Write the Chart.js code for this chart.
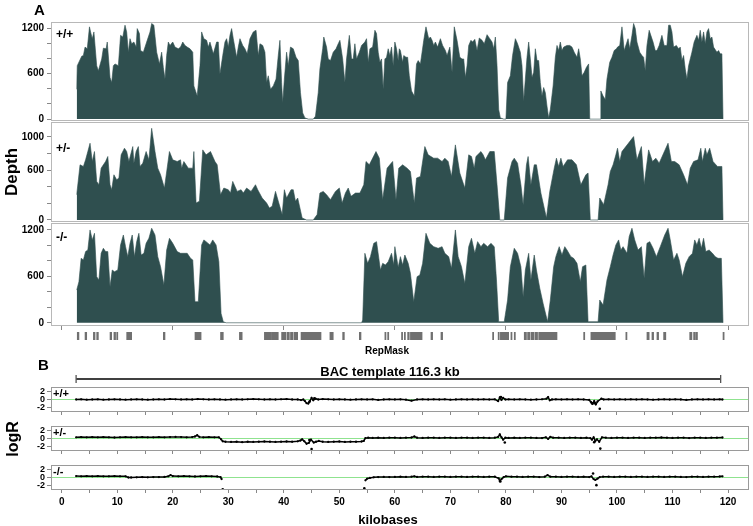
<!DOCTYPE html>
<html><head><meta charset="utf-8">
<script src="https://cdn.jsdelivr.net/npm/chart.js@4/dist/chart.umd.min.js"></script>
<style>
html,body{margin:0;padding:0;background:#fff;}
#wrap{position:relative;width:753px;height:526px;overflow:hidden;font-family:"Liberation Sans",Arial,Helvetica,sans-serif;font-weight:bold;color:#000;}
canvas{position:absolute;left:0;top:0;}
.t{position:absolute;white-space:nowrap;line-height:1;font-weight:bold;}
.c{transform:translate(-50%,-50%);}
.r{transform:translate(-50%,-50%) rotate(-90deg);}
</style></head><body>
<div id="wrap">
<canvas id="a1" width="753" height="526"></canvas>
<canvas id="a2" width="753" height="526"></canvas>
<canvas id="a3" width="753" height="526"></canvas>
<canvas id="rm" width="753" height="526"></canvas>
<canvas id="bac" width="753" height="526"></canvas>
<canvas id="b1" width="753" height="526"></canvas>
<canvas id="b2" width="753" height="526"></canvas>
<canvas id="b3" width="753" height="526"></canvas>
<div class="t" style="left:34px;top:2px;font-size:15px">A</div>
<div class="t r" style="left:11px;top:172px;font-size:17px">Depth</div>
<div class="t" style="left:56px;top:28px;font-size:12px">+/+</div>
<div class="t" style="left:56px;top:142px;font-size:12px">+/-</div>
<div class="t" style="left:56px;top:231px;font-size:12px">-/-</div>
<div class="t c" style="left:387px;top:351px;font-size:10px">RepMask</div>
<div class="t" style="left:38px;top:357px;font-size:15px">B</div>
<div class="t c" style="left:390px;top:371px;font-size:13px">BAC template 116.3 kb</div>
<div class="t r" style="left:13px;top:439px;font-size:16px">logR</div>
<div class="t" style="left:53px;top:388px;font-size:11px">+/+</div>
<div class="t" style="left:53px;top:427px;font-size:11px">+/-</div>
<div class="t" style="left:53px;top:466px;font-size:11px">-/-</div>
<div class="t c" style="left:388px;top:519px;font-size:13px">kilobases</div>
</div>
<script>
// ---------- data (kilobase position, value) ----------
const depthWT = [[2.7,393],[2.8,704],[3.6,829],[3.9,838],[4.2,949],[4.6,927],[5.0,1216],[5.2,1149],[5.5,1060],[5.8,1149],[6.3,704],[6.6,638],[7.2,793],[7.5,935],[8.0,927],[8.2,1016],[8.7,549],[9.0,482],[9.3,704],[9.6,727],[10.2,704],[10.6,1104],[11.0,1082],[11.4,1238],[11.7,1149],[12.0,882],[12.3,1060],[12.6,993],[13.0,1016],[13.4,949],[13.6,1193],[14.0,1127],[14.2,904],[14.7,882],[15.3,1016],[15.9,1149],[16.2,1260],[16.6,1238],[17.1,882],[17.6,727],[18.0,882],[18.3,682],[18.6,527],[18.9,838],[19.2,1016],[19.5,971],[20.0,1016],[20.4,949],[21.0,927],[21.4,949],[21.8,1016],[22.2,971],[22.6,949],[23.1,927],[23.6,882],[23.8,438],[24.4,304],[24.9,704],[25.2,1149],[25.6,1060],[26.1,1038],[26.4,949],[26.7,1016],[27.3,860],[27.9,1016],[28.2,1016],[28.5,593],[29.0,838],[29.4,1016],[29.7,1060],[30.0,949],[30.3,1104],[30.6,1193],[30.9,1060],[31.5,815],[31.8,949],[32.1,1060],[32.6,971],[33.0,927],[33.4,860],[33.9,1060],[34.5,1149],[35.0,1171],[35.4,838],[35.7,993],[36.2,971],[36.6,882],[36.9,482],[37.2,571],[37.6,393],[38.1,438],[38.6,527],[39.0,838],[39.3,1038],[39.6,482],[39.8,216],[40.1,527],[40.5,882],[40.8,704],[41.2,949],[41.7,927],[42.2,815],[42.6,771],[43.0,349],[43.4,82],[43.8,16],[44.4,0],[45.3,0],[45.7,38],[46.2,349],[46.5,660],[47.0,927],[47.2,1082],[47.7,949],[48.0,793],[48.4,771],[48.9,882],[49.4,927],[49.8,993],[50.1,1038],[50.6,793],[51.0,482],[51.3,793],[51.8,1104],[52.2,793],[52.5,793],[52.8,993],[53.1,793],[53.6,882],[54.0,971],[54.6,1016],[54.9,1060],[55.2,749],[55.5,927],[56.0,949],[56.4,1171],[56.7,1127],[57.0,882],[57.3,749],[57.6,793],[57.9,393],[58.2,793],[58.5,815],[58.8,927],[59.1,838],[59.4,949],[59.7,704],[60.0,1016],[60.3,927],[60.6,771],[60.8,927],[61.0,904],[61.4,749],[61.6,838],[62.0,815],[62.3,815],[62.6,571],[63.0,371],[63.5,304],[63.9,727],[64.2,771],[64.6,727],[64.9,882],[65.2,1038],[65.6,1216],[66.1,1060],[66.4,1082],[66.7,1038],[67.0,971],[67.3,1016],[67.7,949],[68.2,1060],[68.6,971],[69.1,904],[69.4,838],[69.9,949],[70.3,616],[70.7,1216],[71.2,1038],[71.7,815],[72.1,793],[72.4,793],[72.7,549],[73.0,704],[73.3,971],[73.7,1038],[74.0,1016],[74.4,1051],[74.8,904],[75.2,1069],[75.7,1038],[76.1,993],[76.6,1113],[77.1,1060],[77.5,1016],[77.8,927],[78.1,1082],[78.4,704],[78.7,127],[79.0,16],[79.6,0],[80.0,0],[80.3,482],[80.8,571],[81.2,838],[81.7,1060],[82.1,993],[82.6,882],[82.9,704],[83.2,236],[83.5,527],[83.8,815],[84.1,1016],[84.4,793],[84.7,549],[85.0,616],[85.3,927],[85.6,771],[85.9,771],[86.2,482],[86.5,304],[86.8,416],[87.1,349],[87.4,171],[87.7,16],[88.0,127],[88.5,438],[88.9,815],[89.2,971],[89.5,904],[89.8,1016],[90.1,904],[90.4,949],[91.0,971],[91.5,971],[91.9,949],[92.3,882],[92.8,815],[93.1,927],[93.4,793],[93.7,571],[94.1,616],[94.5,682],[94.9,727],[95.1,0],[97.0,0],[97.1,371],[97.5,304],[97.9,260],[98.2,527],[98.7,749],[99.1,815],[99.5,904],[99.9,927],[100.1,949],[100.5,971],[100.9,1216],[101.3,904],[101.7,993],[102.0,1060],[102.3,927],[102.7,1104],[103.0,1260],[103.3,1193],[103.6,1016],[104.1,882],[104.5,838],[104.8,815],[105.1,638],[105.4,971],[105.8,1171],[106.1,1104],[106.5,1016],[106.9,904],[107.2,904],[107.6,971],[108.1,1104],[108.5,971],[109.0,971],[109.3,1238],[109.6,1238],[109.9,1149],[110.2,949],[110.7,971],[111.1,927],[111.4,949],[111.7,771],[112.0,838],[112.3,660],[112.6,527],[112.9,704],[113.5,882],[113.9,1016],[114.4,1104],[114.7,1038],[115.0,1171],[115.3,1016],[115.6,1149],[115.9,993],[116.2,1149],[116.5,1193],[116.8,1060],[117.1,1082],[117.4,949],[118.0,882],[118.3,904],[118.6,860],[118.9,860],[119.1,0]];

const depthHet = [[2.7,304],[3.3,664],[3.9,644],[4.3,724],[4.7,824],[5.1,924],[5.5,704],[5.9,824],[6.3,464],[6.7,424],[7.1,624],[7.5,664],[7.9,704],[8.3,764],[8.7,424],[9.0,364],[9.4,544],[9.9,484],[10.3,504],[10.7,784],[11.3,864],[11.7,824],[12.1,704],[12.8,884],[13.0,684],[13.4,824],[13.8,884],[14.1,644],[14.6,684],[15.2,824],[15.7,724],[16.2,1104],[16.8,824],[17.3,624],[17.8,544],[18.5,384],[19.4,824],[20.0,724],[20.8,704],[21.4,724],[21.6,624],[22.0,704],[22.8,624],[23.6,624],[23.8,824],[24.2,204],[24.8,224],[25.4,844],[26.0,784],[26.8,824],[27.6,704],[28.0,664],[28.6,304],[29.2,384],[30.0,364],[30.4,324],[30.8,464],[31.6,344],[32.3,364],[32.7,324],[33.3,384],[34.1,344],[34.9,424],[35.3,364],[36.1,264],[36.9,204],[37.4,144],[37.9,164],[38.5,344],[39.7,64],[40.1,364],[40.5,264],[41.3,364],[41.7,364],[42.1,224],[42.5,264],[43.3,24],[44.1,0],[45.3,0],[46.0,64],[46.5,324],[47.1,344],[47.7,304],[48.4,244],[49.3,344],[50.0,384],[50.5,204],[51.1,324],[51.6,384],[52.1,284],[52.9,324],[53.7,324],[54.4,424],[54.8,704],[55.4,664],[56.6,824],[57.2,744],[57.8,244],[58.6,624],[59.1,664],[59.6,704],[60.2,244],[60.7,624],[61.4,664],[62.2,624],[62.8,584],[63.5,204],[63.9,504],[64.6,524],[65.4,884],[66.0,784],[67.0,744],[67.7,744],[68.5,704],[69.0,744],[69.6,704],[70.2,524],[70.9,904],[71.7,564],[72.6,384],[73.3,784],[73.8,764],[74.3,624],[74.6,764],[75.5,824],[75.9,784],[76.3,724],[77.1,824],[77.9,824],[78.4,424],[78.9,0],[79.7,0],[80.3,504],[81.1,704],[81.5,744],[82.1,684],[82.7,424],[83.1,184],[83.7,664],[84.0,764],[84.5,424],[85.1,664],[85.5,664],[86.3,324],[87.3,24],[87.9,344],[88.7,624],[89.1,744],[89.5,644],[89.9,744],[90.3,644],[91.1,724],[91.9,724],[92.7,664],[93.5,424],[94.4,544],[94.8,564],[95.2,0],[96.6,0],[96.9,264],[97.6,184],[98.4,424],[98.8,584],[99.3,664],[99.8,784],[100.1,864],[100.5,704],[100.9,824],[103.0,1004],[103.6,724],[104.4,884],[104.9,424],[105.7,844],[106.4,704],[107.0,744],[107.6,684],[109.2,924],[109.8,704],[110.4,704],[111.2,664],[112.0,544],[112.7,424],[113.2,624],[113.8,704],[114.6,724],[115.1,864],[115.4,704],[115.9,864],[116.2,784],[116.7,864],[117.3,704],[118.1,644],[118.9,644],[119.1,0]];

const depthKO = [[2.7,423],[3.1,531],[3.5,833],[3.9,812],[4.3,920],[4.7,941],[5.1,1200],[5.5,1071],[5.9,1157],[6.3,596],[6.7,553],[7.1,898],[7.5,963],[7.9,920],[8.3,920],[8.7,466],[9.1,682],[9.5,660],[10.1,682],[10.6,1006],[11.1,1135],[11.5,984],[11.9,855],[12.3,1027],[12.7,1135],[13.1,855],[13.5,1049],[13.9,1157],[14.3,876],[14.8,898],[15.2,1027],[15.7,1092],[16.2,1222],[16.8,1135],[17.3,855],[17.8,725],[18.4,488],[18.9,941],[19.4,1092],[20.0,1027],[20.8,920],[21.4,898],[22.0,898],[22.6,898],[23.2,833],[23.6,812],[24.0,272],[24.6,272],[25.2,1006],[25.6,1071],[26.0,1049],[26.7,1006],[27.2,1071],[27.8,1006],[28.3,790],[28.7,121],[29.1,13],[29.6,0],[54.0,0],[54.2,35],[54.6,898],[55.1,768],[55.6,855],[56.2,1027],[56.7,1049],[57.4,682],[57.8,768],[58.3,747],[58.8,790],[59.4,898],[59.8,747],[60.0,984],[60.6,717],[61.0,855],[61.4,747],[61.8,876],[62.4,768],[62.8,639],[63.4,272],[64.0,596],[64.5,617],[65.0,768],[65.6,1157],[66.3,1027],[67.0,984],[67.8,963],[68.5,984],[69.0,898],[69.7,855],[70.2,704],[70.9,1200],[71.4,855],[72.0,725],[72.6,509],[73.3,984],[73.8,1092],[74.4,898],[74.9,1049],[75.5,984],[76.0,1027],[76.7,984],[77.3,1027],[77.9,984],[78.3,553],[78.7,13],[79.7,13],[80.3,294],[80.8,725],[81.5,963],[82.1,898],[82.7,725],[83.1,337],[83.5,682],[84.1,898],[84.5,553],[85.1,876],[85.5,682],[86.1,445],[86.7,250],[87.5,13],[88.0,294],[88.6,725],[89.0,855],[89.6,984],[90.1,876],[90.6,984],[91.0,941],[91.7,855],[92.2,833],[92.8,768],[93.4,531],[93.8,725],[94.4,747],[94.8,13],[96.6,13],[96.9,294],[97.5,229],[98.2,553],[98.8,725],[99.3,876],[99.8,1006],[100.3,1071],[100.7,941],[101.1,984],[101.8,898],[102.2,1114],[102.7,1222],[103.2,1071],[103.8,941],[104.4,984],[104.9,574],[105.4,1027],[105.9,1049],[106.5,963],[107.1,855],[107.8,984],[108.6,1135],[109.2,1222],[109.6,1071],[110.2,812],[110.8,898],[111.2,812],[111.8,596],[112.4,768],[113.0,855],[113.6,898],[114.0,1071],[114.4,1006],[114.8,1092],[115.2,963],[115.6,1092],[116.0,920],[116.6,941],[117.2,898],[117.7,855],[118.2,833],[118.8,833],[119.1,0]];

const repMask = [[2.8,3.1],[4.2,4.5],[5.7,6.0],[6.3,6.6],[8.7,9.0],[9.4,9.7],[9.9,10.1],[11.7,12.6],[18.3,18.6],[24.0,25.1],[28.6,29.1],[32.0,32.5],[36.5,37.1],[37.2,37.8],[37.9,39.0],[39.6,40.4],[40.6,41.0],[41.2,41.6],[41.8,42.5],[43.1,46.7],[48.3,48.9],[50.6,50.9],[53.6,53.9],[58.2,58.4],[58.7,58.9],[61.2,61.4],[61.7,61.9],[62.3,62.6],[62.8,64.9],[66.5,66.8],[68.3,68.6],[77.6,77.8],[78.6,78.8],[79.0,80.5],[80.9,81.1],[81.5,81.7],[83.3,83.7],[83.9,84.3],[84.5,85.0],[85.2,85.7],[85.9,89.2],[94.0,94.2],[95.3,99.7],[101.6,101.8],[105.4,105.8],[106.3,106.6],[107.2,107.5],[108.4,108.8],[113.1,113.5],[113.8,114.1],[114.2,114.5],[119.1,119.3]];

const logrWT = [[2.6,0.0],[3.5,0.05],[4.5,-0.05],[5.5,0.0],[6.5,0.05],[7.5,-0.05],[8.5,0.0],[9.5,0.05],[10.5,0.0],[11.5,-0.05],[12.5,0.0],[13.5,0.05],[14.5,0.0],[15.5,-0.05],[16.5,0.0],[17.5,0.05],[18.5,0.0],[19.5,0.1],[20.5,0.05],[21.5,0.0],[22.5,0.05],[23.5,0.0],[24.5,0.1],[25.5,0.05],[26.5,0.0],[27.5,0.05],[28.5,0.0],[29.5,-0.05],[30.5,0.0],[31.5,0.05],[32.5,0.0],[33.5,0.05],[34.5,0.1],[35.5,0.05],[36.5,0.0],[37.5,0.05],[38.5,0.0],[39.5,0.05],[40.5,0.1],[41.5,0.0],[42.5,0.0],[43.1,-0.15],[43.5,0.0],[43.8,-0.4],[44.1,-0.9],[44.4,-1.0],[44.7,-0.4],[45.0,0.4],[45.3,-0.2],[45.7,0.2],[46.2,0.0],[47,0.1],[48,0.05],[49,0.0],[50,0.05],[51,0.0],[52,-0.05],[53,0.0],[54,0.05],[55,0.0],[56,0.05],[57,-0.1],[58,0.0],[59,0.05],[60,0.0],[61,0.05],[62,-0.05],[63,-0.3],[64,0.0],[65,0.05],[66,0.0],[67,0.05],[68,0.0],[69,0.05],[70,-0.05],[71,0.0],[72,0.05],[73,0.0],[74,0.05],[75,0.0],[76,0.05],[77,0.0],[78,0.05],[78.6,-0.4],[78.9,0.5],[79.2,-0.1],[79.5,0.4],[79.9,0.0],[80.5,0.05],[81.5,0.0],[82.5,0.05],[83.5,0.0],[84.5,-0.05],[85.5,0.0],[86.5,0.05],[87.3,0.2],[87.6,0.6],[87.9,-0.2],[88.3,0.0],[89,0.05],[90,0.0],[91,0.05],[92,0.0],[93,0.05],[94,0.0],[95,-0.1],[95.3,-0.6],[95.6,-1.1],[95.9,-0.4],[96.2,-1.2],[96.5,-0.5],[97.2,0.2],[97.6,0.0],[98.5,0.05],[99.5,0.0],[100.5,0.05],[101.5,0.0],[102.5,0.05],[103.5,0.0],[104.5,0.05],[105.5,0.0],[106.5,-0.05],[107.5,0.0],[108.5,0.05],[109.5,0.0],[110.5,0.05],[111.5,0.0],[112.5,-0.1],[113.5,0.0],[114.5,0.05],[115.5,0.0],[116.5,0.05],[117.5,0.0],[118.5,0.05],[119.0,0.0]];
const logrWTOut = [[44.6,-0.6],[45.5,0.3],[79.1,0.6],[95.5,-0.9],[96.0,-0.9],[96.9,-2.3]];

const logrHet = [[2.6,0.3],[3.5,0.35],[4.5,0.3],[5.5,0.35],[6.5,0.3],[7.5,0.35],[8.5,0.3],[9.5,0.25],[10.5,0.3],[11.5,0.35],[12.5,0.3],[13.5,0.3],[14.5,0.35],[15.5,0.3],[16.5,0.3],[17.5,0.35],[18.5,0.3],[19.5,0.35],[20.5,0.4],[21.5,0.35],[22.5,0.3],[23.5,0.35],[24.0,0.5],[24.4,0.8],[24.8,0.4],[25.5,0.3],[26.5,0.35],[27.5,0.3],[28.3,0.3],[28.7,-0.2],[29.0,-0.7],[29.5,-0.8],[30.5,-0.85],[31.5,-0.8],[32.5,-0.9],[33.5,-0.8],[34.5,-0.85],[35.5,-0.8],[36.5,-0.75],[37.5,-0.8],[38.5,-0.85],[39.5,-0.8],[40.5,-0.75],[41.5,-0.8],[42.5,-0.7],[43.0,-0.5],[43.3,-0.2],[43.7,-0.7],[44.1,-1.3],[44.5,-1.1],[44.9,-0.3],[45.4,-1.0],[45.8,-0.8],[46.3,-0.6],[47,-0.8],[48,-0.85],[49,-0.8],[50,-0.75],[51,-0.85],[52,-0.8],[53,-0.8],[54,-0.75],[54.4,-0.6],[54.7,0.1],[55.2,0.2],[56,0.15],[57,0.2],[58,0.15],[59,0.2],[60,0.2],[61,0.15],[62,0.2],[63,0.25],[63.5,0.5],[64,0.2],[65,0.15],[66,0.2],[67,0.2],[68,0.15],[69,0.2],[70,0.2],[71,0.15],[72,0.2],[73,0.2],[74,0.15],[75,0.2],[76,0.2],[77,0.15],[78,0.2],[78.6,0.4],[78.9,1.0],[79.2,0.3],[79.5,-0.3],[79.9,0.2],[80.5,0.15],[81.5,0.2],[82.5,0.15],[83.5,0.2],[84.5,0.2],[85.5,0.15],[86.5,0.1],[87.2,0.3],[87.6,-0.1],[88.0,0.4],[88.5,0.2],[89.5,0.2],[90.5,0.15],[91.5,0.2],[92.5,0.2],[93.5,0.15],[94.5,0.2],[95.2,0.1],[95.5,-0.3],[95.8,0.3],[96.1,-0.6],[96.4,-0.2],[96.8,-0.8],[97.3,0.3],[98,0.2],[99,0.15],[100,0.2],[101,0.2],[102,0.15],[103,0.2],[104,0.2],[105,0.15],[106,0.2],[107,0.2],[108,0.25],[109,0.2],[110,0.15],[111,0.2],[112,0.2],[113,0.1],[114,0.2],[115,0.2],[116,0.15],[117,0.2],[118,0.2],[119,0.25]];
const logrHetOut = [[44.6,-0.4],[45.0,-2.6],[79.8,-1.0],[95.9,-0.9],[97.0,-2.5]];

const logrKO = [[2.6,0.35],[3.5,0.3],[4.5,0.35],[5.5,0.3],[6.5,0.35],[7.5,0.3],[8.5,0.3],[9.5,0.35],[10.5,0.3],[11.5,0.3],[12.0,0.0],[12.5,0.0],[13.5,0.05],[14.5,0.1],[15.5,0.05],[16.5,0.1],[17.5,0.1],[18.5,0.15],[19.2,0.3],[19.6,0.6],[20.0,0.35],[21,0.3],[22,0.35],[23,0.3],[24,0.25],[25,0.3],[26,0.35],[27,0.3],[28,0.25],[28.6,0.1],[28.8,-0.4],[40,null],[54.7,-0.7],[55.0,-0.3],[55.5,-0.1],[56.2,0.05],[57,0.1],[58,0.15],[59,0.1],[60,0.15],[61,0.2],[62,0.15],[63,0.2],[63.5,0.3],[64,0.15],[65,0.2],[66,0.2],[67,0.15],[68,0.2],[69,0.2],[70,0.15],[71,0.2],[72,0.2],[73,0.15],[74,0.2],[75,0.2],[76,0.15],[77,0.2],[78,0.2],[78.7,-0.2],[78.9,-0.9],[79.2,-0.4],[79.6,0.1],[80,0.3],[81,0.2],[82,0.2],[83,0.15],[84,0.2],[85,0.2],[86,0.1],[87,0.2],[87.5,0.6],[88,0.2],[89,0.2],[90,0.15],[91,0.2],[92,0.2],[93,0.15],[94,0.2],[95,0.1],[95.4,0.3],[95.8,-0.4],[96.1,-0.6],[96.5,-0.3],[96.9,0.1],[97.5,0.2],[98.5,0.2],[99.5,0.15],[100.5,0.2],[101.5,0.2],[102.5,0.15],[103.5,0.2],[104.5,0.2],[105.5,0.15],[106.5,0.2],[107.5,0.2],[108.5,0.15],[109.5,0.2],[110.5,0.2],[111.5,0.15],[112.5,0.1],[113.5,0.2],[114.5,0.2],[115.5,0.15],[116.5,0.2],[117.5,0.2],[118.5,0.25],[119,0.3]];
const logrKOOut = [[29.0,-2.9],[54.5,-2.7],[79.0,-1.0],[95.7,1.0],[96.3,-1.9]];

const bacSpan = [2.6, 118.9];
const zeroRef = [0, 0];
const xTicksA = [0,20,40,60,80,100,120];
const xTicksB = [0,5,10,15,20,25,30,35,40,45,50,55,60,65,70,75,80,85,90,95,100,105,110,115,120];
const xLabelsB = [0,10,20,30,40,50,60,70,80,90,100,110,120];
const yTicksDepth12 = [0,200,400,600,800,1000,1200];
const yLabelsDepth12 = [0,600,1200];
const yTicksDepth10 = [0,200,400,600,800,1000];
const yLabelsDepth10 = [0,600,1000];
const yTicksLogR = [-2,0,2];

// ---------- helpers ----------
const KBMIN = -1.93, KBMAX = 123.78;
const W = 753, H = 526, RIGHT = 749, YW = 51;
const DARK = '#2f4f4f';
Chart.defaults.font.family = '"Liberation Sans", Arial, Helvetica, sans-serif';
Chart.defaults.font.weight = 'bold';
Chart.defaults.color = '#000';
const pts = arr => arr.map(p => ({x: p[0], y: p[1]}));
const setTicks = vals => s => { s.ticks = vals.map(v => ({value: v})); };
function framePlugin(color) {
  return {id: 'frame', afterDatasetsDraw(c) {
    const a = c.chartArea, g = c.ctx;
    g.save(); g.strokeStyle = color; g.lineWidth = 1;
    g.strokeRect(Math.round(a.left) + 0.5, Math.round(a.top) + 0.5, Math.round(a.right - a.left) - 1, Math.round(a.bottom - a.top) - 1);
    g.restore();
  }};
}
const base = {responsive: false, animation: false, plugins: {legend: {display: false}, tooltip: {enabled: false}}};

function depthChart(id, data, top, bottom, ymin, ymax, yt, yl, showX) {
  const xH = showX ? 6 : 0;
  new Chart(document.getElementById(id), {
    type: 'line',
    data: {datasets: [{data: pts(data), fill: 'origin', backgroundColor: DARK, borderColor: DARK, borderWidth: 0.6, pointRadius: 0, tension: 0}]},
    options: Object.assign({}, base, {
      layout: {padding: {top: top, bottom: H - bottom - xH, left: 0, right: W - RIGHT}},
      scales: {
        x: {type: 'linear', min: KBMIN, max: KBMAX, display: showX, afterBuildTicks: setTicks(xTicksA), afterFit: s => { s.height = xH; },
            grid: {drawOnChartArea: false, tickLength: 4, tickColor: '#888'}, border: {display: false}, ticks: {display: false, autoSkip: false}},
        y: {type: 'linear', min: ymin, max: ymax, afterBuildTicks: setTicks(yt), afterFit: s => { s.width = YW; },
            grid: {drawOnChartArea: false, tickLength: 4, tickColor: '#888'}, border: {display: false},
            ticks: {autoSkip: false, padding: 3, font: {size: 10, weight: 'bold'}, callback: v => yl.includes(v) ? String(v) : ''}}
      }
    }),
    plugins: [framePlugin('#b8b8b8')]
  });
}
depthChart('a1', depthWT, 22, 121, -25, 1280, yTicksDepth12, yLabelsDepth12, false);
depthChart('a2', depthHet, 122, 222, -25, 1180, yTicksDepth10, yLabelsDepth10, false);
depthChart('a3', depthKO, 223, 326, -42, 1290, yTicksDepth12, yLabelsDepth12, true);

// RepMask track
new Chart(document.getElementById('rm'), {
  type: 'bar',
  data: {labels: ['RepMask'], datasets: [{data: repMask.map(r => ({x: r, y: 'RepMask'})), backgroundColor: '#707070', borderWidth: 0, barPercentage: 1, categoryPercentage: 1}]},
  options: Object.assign({}, base, {
    indexAxis: 'y',
    layout: {padding: {top: 332, bottom: H - 340, left: YW, right: W - RIGHT}},
    scales: {x: {type: 'linear', min: KBMIN, max: KBMAX, display: false}, y: {type: 'category', display: false}}
  })
});

// BAC template bracket
new Chart(document.getElementById('bac'), {
  type: 'line',
  data: {datasets: [{data: bacSpan.map(v => ({x: v, y: 0})), borderColor: '#000', borderWidth: 1.3, pointStyle: 'line', rotation: 90, pointRadius: 4, pointBorderWidth: 1.3, pointBorderColor: '#555'}]},
  options: Object.assign({}, base, {
    layout: {padding: {top: 374, bottom: H - 384, left: YW, right: W - RIGHT}},
    scales: {x: {type: 'linear', min: KBMIN, max: KBMAX, display: false}, y: {min: -1, max: 1, display: false}}
  })
});

function logrChart(id, line, out, top, bottom, labels) {
  const xH = labels ? 22 : 4;
  new Chart(document.getElementById(id), {
    type: 'line',
    data: {datasets: [
      {data: [{x: KBMIN, y: zeroRef[0]}, {x: KBMAX, y: zeroRef[1]}], borderColor: '#8fe38f', borderWidth: 1.2, pointRadius: 0, order: 3},
      {data: pts(line), borderColor: '#000', backgroundColor: '#000', borderWidth: 1.5, pointRadius: 1.15, pointBorderWidth: 0, tension: 0, spanGaps: false, order: 2},
      {data: pts(out), showLine: false, borderColor: '#000', backgroundColor: '#000', pointRadius: 1.3, pointBorderWidth: 0, order: 1}
    ]},
    options: Object.assign({}, base, {
      layout: {padding: {top: top, bottom: H - bottom - xH, left: 0, right: W - RIGHT}},
      scales: {
        x: {type: 'linear', min: KBMIN, max: KBMAX, afterBuildTicks: setTicks(xTicksB), afterFit: s => { s.height = xH; },
            grid: {drawOnChartArea: false, tickLength: 3, tickColor: '#888'}, border: {display: false},
            ticks: {display: labels, autoSkip: false, maxRotation: 0, padding: 3, font: {size: 10, weight: 'bold'}, callback: v => xLabelsB.includes(v) ? String(v) : ''}},
        y: {type: 'linear', min: -3.1, max: 3.1, afterBuildTicks: setTicks(yTicksLogR), afterFit: s => { s.width = YW; },
            grid: {drawOnChartArea: false, tickLength: 4, tickColor: '#888'}, border: {display: false},
            ticks: {autoSkip: false, padding: 2, font: {size: 9, weight: 'bold'}}}
      }
    }),
    plugins: [framePlugin('#9a9a9a')]
  });
}
logrChart('b1', logrWT, logrWTOut, 387, 412, false);
logrChart('b2', logrHet, logrHetOut, 426, 451, false);
logrChart('b3', logrKO, logrKOOut, 465, 490, true);
</script>
</body></html>
